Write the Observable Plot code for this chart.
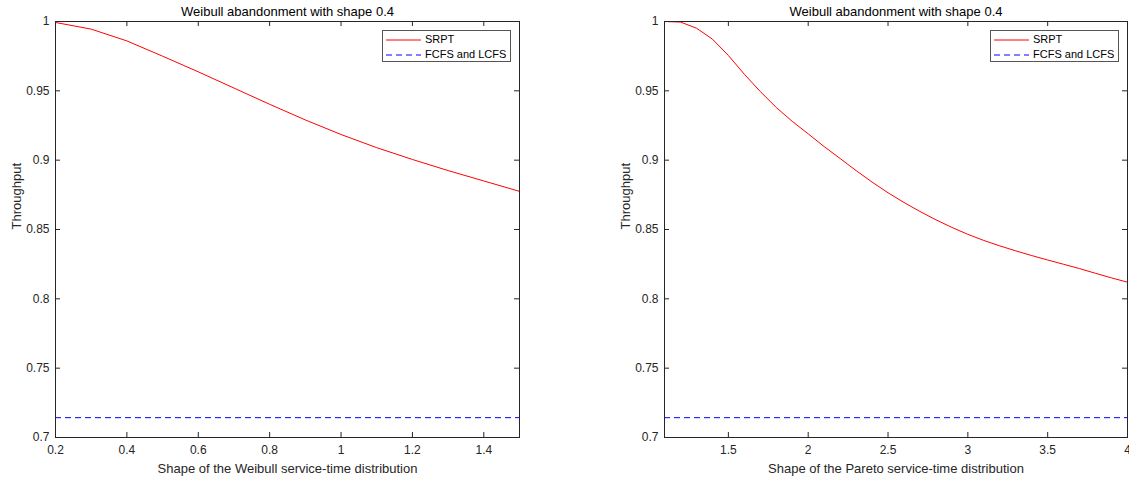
<!DOCTYPE html>
<html>
<head>
<meta charset="utf-8">
<script src="https://cdn.jsdelivr.net/npm/d3@7"></script>
<script src="https://cdn.jsdelivr.net/npm/@observablehq/plot@0.6"></script>
<style>
  html, body { margin: 0; padding: 0; background: #fff; }
  body { width: 1129px; height: 483px; overflow: hidden; font-family: "Liberation Sans", Arial, sans-serif; }
  #row { display: flex; flex-direction: row; width: 1129px; }
  .panel { position: relative; flex: none; }
  .panel svg.plot { display: block; max-width: none; }
  .legend { position: absolute; top: 30px; }
  .legend text { font-family: "Liberation Sans", Arial, sans-serif; font-size: 11px; fill: #000; }
</style>
</head>
<body>
<div id="row"></div>
<script>
// ---- data ----
const titleText = "Weibull abandonment with shape 0.4";
const yLabelText = "Throughput";
const seriesNames = ["SRPT", "FCFS and LCFS"];
const seriesColors = ["#ff0000", "#0000ff"];

const weibullShape = [0.2, 0.3, 0.4, 0.5, 0.6, 0.7, 0.8, 0.9, 1.0, 1.1, 1.2, 1.3, 1.4, 1.5];
const weibullSRPT  = [0.9993, 0.9945, 0.986, 0.975, 0.9637, 0.952, 0.9403, 0.929, 0.9185, 0.909, 0.9005, 0.8925, 0.885, 0.8775];

const paretoShape = [1.1, 1.2, 1.3, 1.4, 1.5, 1.6, 1.7, 1.8, 1.9, 2.0, 2.1, 2.2, 2.3, 2.4, 2.5, 2.6, 2.7, 2.8, 2.9, 3.0, 3.1, 3.2, 3.3, 3.4, 3.5, 3.6, 3.7, 3.8, 3.9, 4.0];
const paretoSRPT  = [1.0, 0.9996, 0.9952, 0.9873, 0.9755, 0.962, 0.9495, 0.938, 0.928, 0.919, 0.9098, 0.9012, 0.8925, 0.8842, 0.8765, 0.8695, 0.863, 0.857, 0.8515, 0.8465, 0.8421, 0.8382, 0.8346, 0.8312, 0.828, 0.8249, 0.8218, 0.8184, 0.8151, 0.812];

const fcfsLcfs = [0.7143];

const yTicks = [0.7, 0.75, 0.8, 0.85, 0.9, 0.95, 1];
const weibullTicks = [0.2, 0.4, 0.6, 0.8, 1, 1.2, 1.4];
const paretoTicks = [1.5, 2, 2.5, 3, 3.5, 4];

// ---- drawing ----
const H = 483, MT = 21, MB = 46, TICK = 5;
const axisColor = "#262626";
const fmt = d3.format("~g");

function panel({width, marginLeft, marginRight, xDomain, xTicks, xs, ys, xLabel, legendLeft}) {
  const plotW = width - marginLeft - marginRight;
  const plotH = H - MT - MB;
  const pts = xs.map((x, i) => ({x, y: ys[i]}));
  const svg = Plot.plot({
    width, height: H,
    marginTop: MT, marginBottom: MB, marginLeft, marginRight,
    x: {domain: xDomain},
    y: {domain: [0.7, 1]},
    style: {fontFamily: "'Liberation Sans', Arial, sans-serif", fontSize: "12px", color: axisColor, background: "white", overflow: "visible"},
    marks: [
      Plot.ruleY(fcfsLcfs, {y: d => d, stroke: seriesColors[1], strokeWidth: 1, strokeDasharray: "6,4"}),
      Plot.line(pts, {x: "x", y: "y", stroke: seriesColors[0], strokeWidth: 1}),
      Plot.frame({stroke: axisColor, strokeWidth: 1}),
      // inward ticks on all four sides
      Plot.ruleX(xTicks, {x: d => d, insetTop: plotH - TICK, stroke: axisColor}),
      Plot.ruleX(xTicks, {x: d => d, insetBottom: plotH - TICK, stroke: axisColor}),
      Plot.ruleY(yTicks, {y: d => d, insetRight: plotW - TICK, stroke: axisColor}),
      Plot.ruleY(yTicks, {y: d => d, insetLeft: plotW - TICK, stroke: axisColor}),
      Plot.axisX(xTicks, {tickSize: 0, tickPadding: 8, tickFormat: fmt, label: null, fontSize: 12}),
      Plot.axisY(yTicks, {tickSize: 0, tickPadding: 6, tickFormat: fmt, label: null, fontSize: 12}),
      Plot.text([titleText], {text: d => d, frameAnchor: "top", lineAnchor: "middle", dy: -10, fontSize: 13, fill: "#000"}),
      Plot.text([xLabel], {text: d => d, frameAnchor: "bottom", lineAnchor: "middle", dy: 31, fontSize: 13, fill: axisColor}),
      Plot.text([yLabelText], {text: d => d, frameAnchor: "left", dx: -39, rotate: -90, fontSize: 13, fill: axisColor})
    ]
  });
  svg.classList.add("plot");
  const div = document.createElement("div");
  div.className = "panel";
  div.style.width = width + "px";
  div.appendChild(svg);

  // legend box (inside the axes, top-right)
  const lg = document.createElement("div");
  lg.className = "legend";
  lg.style.left = legendLeft + "px";
  const ns = "http://www.w3.org/2000/svg";
  const ls = document.createElementNS(ns, "svg");
  ls.setAttribute("width", 129); ls.setAttribute("height", 32);
  const rect = document.createElementNS(ns, "rect");
  rect.setAttribute("x", 0.5); rect.setAttribute("y", 0.5);
  rect.setAttribute("width", 128); rect.setAttribute("height", 31);
  rect.setAttribute("fill", "#fff"); rect.setAttribute("stroke", "#555");
  ls.appendChild(rect);
  seriesNames.forEach((name, i) => {
    const y = 10 + i * 15;
    const ln = document.createElementNS(ns, "line");
    ln.setAttribute("x1", 4); ln.setAttribute("x2", 39);
    ln.setAttribute("y1", y); ln.setAttribute("y2", y);
    ln.setAttribute("stroke", seriesColors[i]); ln.setAttribute("stroke-width", 1);
    if (i === 1) ln.setAttribute("stroke-dasharray", "6,4");
    ls.appendChild(ln);
    const tx = document.createElementNS(ns, "text");
    tx.setAttribute("x", 43); tx.setAttribute("y", y);
    tx.setAttribute("dominant-baseline", "middle");
    tx.textContent = name;
    ls.appendChild(tx);
  });
  lg.appendChild(ls);
  div.appendChild(lg);
  return div;
}

const row = document.getElementById("row");
row.appendChild(panel({
  width: 564, marginLeft: 55, marginRight: 45,
  xDomain: [0.2, 1.5], xTicks: weibullTicks,
  xs: weibullShape, ys: weibullSRPT,
  xLabel: "Shape of the Weibull service-time distribution",
  legendLeft: 382
}));
row.appendChild(panel({
  width: 565, marginLeft: 100, marginRight: 2,
  xDomain: [1.1, 4], xTicks: paretoTicks,
  xs: paretoShape, ys: paretoSRPT,
  xLabel: "Shape of the Pareto service-time distribution",
  legendLeft: 426
}));
</script>
</body>
</html>
